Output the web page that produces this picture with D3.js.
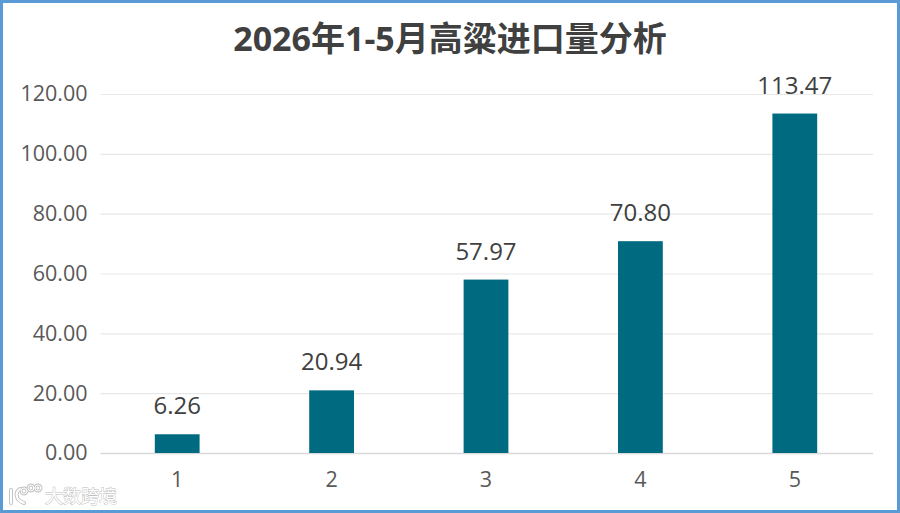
<!DOCTYPE html>
<html>
<head>
<meta charset="utf-8">
<script src="https://cdn.jsdelivr.net/npm/d3@7"></script>
<style>
html,body{margin:0;padding:0;background:#fff;}
svg{display:block;}
text{font-family:"Open Sans","Noto Sans CJK SC",sans-serif;}
</style>
</head>
<body>
<svg id="chart" width="900" height="513"></svg>
<script>
const chartTitle = "2026年1-5月高粱进口量分析";
const months = ["1","2","3","4","5"];
const imports = [6.26,20.94,57.97,70.80,113.47];
const yTicks = [0,20,40,60,80,100,120];
const watermark = "大数跨境";

const svg = d3.select("#chart");
const x = d3.scaleBand().domain(months).range([100,872]).paddingInner(0.71).paddingOuter(0.355);
const y = d3.scaleLinear().domain([0,120]).range([453,94]);
const fmt = d3.format(".2f");

// outer frame
svg.append("rect").attr("x",1.5).attr("y",1.5).attr("width",897).attr("height",510)
  .attr("fill","#fff").attr("stroke","#5b9bd5").attr("stroke-width",3);

svg.append("text").attr("x",450).attr("y",51).attr("text-anchor","middle")
  .attr("font-size",34).attr("font-weight",700).attr("fill","#404040").text(chartTitle);

// value axis with gridlines
const yAxis = d3.axisLeft(y).tickValues(yTicks).tickFormat(fmt).tickSize(0).tickPadding(13);
const gy = svg.append("g").attr("transform","translate(100.5,0)").call(yAxis);
gy.select(".domain").remove();
gy.selectAll("text").attr("font-size",21.5).attr("fill","#595959").attr("font-family",null);
gy.selectAll(".tick").append("line").attr("x1",0).attr("x2",772.5)
  .attr("stroke",d=>d===0?"#d9d9d9":"#e8e8e8").attr("stroke-width",d=>d===0?1.5:1.2);

// month axis
const xAxis = d3.axisBottom(x).tickSize(0).tickPadding(19);
const gx = svg.append("g").attr("transform","translate(0,453)").call(xAxis);
gx.select(".domain").remove();
gx.selectAll("text").attr("font-size",21.5).attr("fill","#595959").attr("font-family",null);

svg.append("g").selectAll("rect").data(imports).join("rect")
  .attr("x",(d,i)=>x(months[i])).attr("width",x.bandwidth())
  .attr("y",d=>y(d)).attr("height",d=>y(0)-y(d)).attr("fill","#006a80");

svg.append("g").selectAll("text").data(imports).join("text")
  .attr("x",(d,i)=>x(months[i])+x.bandwidth()/2).attr("y",d=>y(d)-20)
  .attr("text-anchor","middle").attr("font-size",24).attr("fill","#404040").text(fmt);

// brand mark in the lower corner: white glyphs with a soft grey edge
const brand = svg.append("g").attr("fill","none").attr("stroke-linecap","round");
const brandPaths = ["M11 490V503","M20 489C15 492 15 500 24 503"];
[["#c4c4c4",4],["#fff",2]].forEach(([c,w])=>{
  brandPaths.forEach(p=>brand.append("path").attr("d",p).attr("stroke",c).attr("stroke-width",w));
  [[24,491,3],[31,488,3],[38,488,3]].forEach(([cx,cy,r])=>brand.append("circle")
    .attr("cx",cx).attr("cy",cy).attr("r",r).attr("stroke",c).attr("stroke-width",w-1));
});
svg.append("text").attr("x",45).attr("y",503).attr("font-size",18)
  .attr("fill","#fff").attr("stroke","#bdbdbd").attr("stroke-width",0.9)
  .attr("paint-order","stroke").text(watermark);
</script>
</body>
</html>
